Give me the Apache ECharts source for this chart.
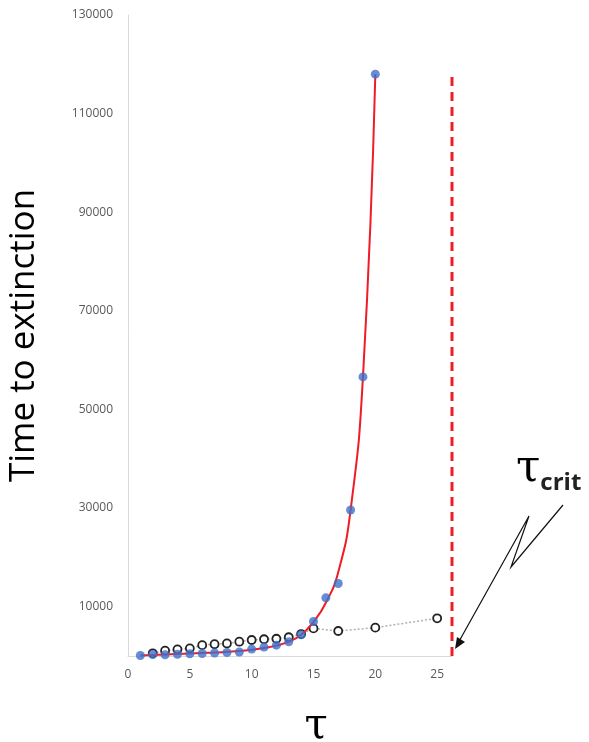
<!DOCTYPE html>
<html>
<head>
<meta charset="utf-8">
<script src="https://cdn.jsdelivr.net/npm/echarts@6/dist/echarts.min.js"></script>
<style>
  html, body { margin: 0; padding: 0; background: #fff; }
  #chart { width: 589px; height: 742px; }
</style>
</head>
<body>
<div id="chart"></div>
<script>
// Simulated mean time to extinction versus tau (filled points)
const tauSim = [1, 2, 3, 4, 5, 6, 7, 8, 9, 10, 11, 12, 13, 14, 15, 16, 17, 18, 19, 20];
const timeSim = [100, 300, 250, 350, 450, 500, 600, 700, 800, 1400, 1800, 2200, 2900, 4300, 7000, 11800, 14700, 29600, 56600, 118000];

// Fitted curve through the simulation (red line)
const tauFit = [1, 2, 3, 4, 5, 6, 7, 8, 9, 10, 11, 12, 13, 14, 15, 16, 17, 18, 19, 20];
const timeFit = [100, 200, 300, 400, 500, 600, 700, 850, 1000, 1250, 1600, 2100, 2900, 4300, 6900, 10800, 17000, 29600, 56600, 118000];

// Approximation values (open circles, dotted line)
const tauApprox = [2, 3, 4, 5, 6, 7, 8, 9, 10, 11, 12, 13, 14, 15, 17, 20, 25];
const timeApprox = [550, 1080, 1350, 1550, 2200, 2400, 2550, 2900, 3250, 3400, 3500, 3800, 4450, 5600, 5070, 5750, 7650];

// Critical tau and extent of the dashed marker
const tauCrit = 26.2;
const critSpan = [0, 118000];

const yTickLabels = [10000, 30000, 50000, 70000, 90000, 110000, 130000];

const pair = (xs, ys) => xs.map((x, i) => [x, ys[i]]);

const chart = echarts.init(document.getElementById('chart'));
const labelFont = '"Open Sans", "Noto Sans", sans-serif';
const greekFont = '"DejaVu Serif", serif';

chart.setOption({
  animation: false,
  backgroundColor: '#ffffff',
  grid: { left: 128, right: 137, top: 15, bottom: 86, outerBoundsMode: 'none', containLabel: false },
  xAxis: {
    type: 'value',
    min: 0,
    max: tauCrit,
    interval: 5,
    axisLine: { lineStyle: { color: '#d9d9d9', width: 1 } },
    axisTick: { show: false },
    splitLine: { show: false },
    axisLabel: {
      color: '#595959', fontSize: 12, fontFamily: labelFont, margin: 13,
      showMaxLabel: false,
      formatter: v => (v % 5 === 0 ? String(v) : '')
    },
    name: 'τ',
    nameLocation: 'middle',
    nameGap: 50,
    nameTextStyle: { fontSize: 42, color: '#000', fontFamily: greekFont, padding: [0, 0, 0, 52] }
  },
  yAxis: {
    type: 'value',
    min: 0,
    max: 130000,
    interval: 10000,
    axisLine: { show: true, lineStyle: { color: '#d9d9d9', width: 1 } },
    axisTick: { show: false },
    splitLine: { show: false },
    axisLabel: {
      color: '#595959', fontSize: 12, fontFamily: labelFont, margin: 15,
      formatter: v => (yTickLabels.includes(v) ? String(v) : '')
    },
    name: 'Time to extinction',
    nameLocation: 'middle',
    nameGap: 86,
    nameTextStyle: { fontSize: 35, color: '#000', fontFamily: labelFont }
  },
  series: [
    {
      name: 'approx',
      type: 'line',
      data: pair(tauApprox, timeApprox),
      symbol: 'circle',
      symbolSize: 8,
      itemStyle: { color: '#ffffff', borderColor: '#222222', borderWidth: 1.8 },
      lineStyle: { color: '#b0b0b0', width: 1.5, type: [2, 2] },
      z: 3
    },
    {
      name: 'fit',
      type: 'line',
      data: pair(tauFit, timeFit),
      smooth: 0.5,
      showSymbol: false,
      lineStyle: { color: '#ee1c25', width: 2 },
      z: 4
    },
    {
      name: 'sim',
      type: 'scatter',
      data: pair(tauSim, timeSim),
      symbol: 'circle',
      symbolSize: 9,
      itemStyle: { color: '#3f6fc9' },
      z: 5
    },
    {
      name: 'crit',
      type: 'line',
      data: critSpan.map(v => [tauCrit, v]),
      showSymbol: false,
      lineStyle: { color: '#ee1c25', width: 3, type: [9, 6] },
      z: 6
    }
  ],
  graphic: [
    {
      type: 'text',
      left: 516,
      top: 448,
      style: {
        text: '{t|τ}{s|crit}',
        rich: {
          t: { fontSize: 44, fontFamily: greekFont, fill: '#000' },
          s: { fontSize: 24, fontFamily: labelFont, fontWeight: 'bold', fill: '#222', padding: [26, 0, 0, 0] }
        }
      }
    },
    {
      type: 'polyline',
      shape: { points: [[563, 505], [511, 567], [529, 516], [457, 645]] },
      style: { stroke: '#111', lineWidth: 1.2, fill: null }
    },
    {
      type: 'polygon',
      shape: { points: [[455, 649], [457, 637], [465, 642]] },
      style: { fill: '#111' }
    }
  ]
});
</script>
</body>
</html>
